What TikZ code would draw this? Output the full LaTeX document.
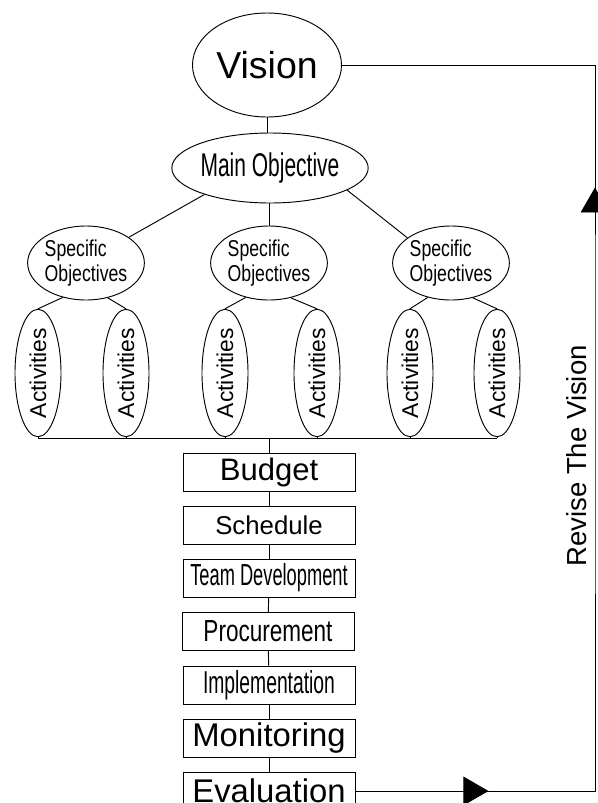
\documentclass[tikz,border=0pt]{standalone}
\usepackage{fontspec}
\setmainfont{Liberation Sans}
\usepackage{graphicx}
\usetikzlibrary{shapes.geometric,arrows.meta,decorations.markings}

\tikzset{
  oval/.style={draw, ellipse, inner sep=0pt},
  specoval/.style={oval, minimum width=3.39cm, minimum height=2.22cm, align=left,
    font=\fontsize{19.6pt}{21pt}\selectfont},
  actoval/.style={oval, minimum width=1.38cm, minimum height=3.39cm,
    font=\fontsize{19.5pt}{21pt}\selectfont},
  stagebox/.style={draw, rectangle, inner sep=0pt, minimum width=5.16cm, minimum height=1.14cm},
  feedback/.style={postaction={decorate}, decoration={markings,
    mark=at position 3.99cm with {\arrow{Triangle[length=7.5mm,width=8.6mm]}},
    mark=at position 25.29cm with {\arrow{Triangle[length=7.5mm,width=8.6mm]}}}}
}
\newcommand{\squeeze}[2]{\scalebox{#1}[1]{#2}}
\newcommand{\specobj}{\squeeze{.77}{Specific}\\\squeeze{.77}{Objectives}}

\begin{document}
\begin{tikzpicture}[x=.03cm, y=-.03cm, line width=.8pt]
\useasboundingbox (0,0) rectangle (598,803);

% top of the tree
\node[oval, minimum width=4.47cm, minimum height=3.12cm, font=\fontsize{32pt}{34pt}\selectfont] (vision) at (267,65) {Vision};
\node[oval, minimum width=5.31cm, minimum height=2.1cm, font=\fontsize{28pt}{30pt}\selectfont] (main) at (270,168) {\squeeze{.64}{Main Objective}};

\node[specoval] (spec1) at (86,263) {\specobj};
\node[specoval] (spec2) at (269,263) {\specobj};
\node[specoval] (spec3) at (451,263) {\specobj};

\draw (vision.south) -- (vision.south |- main.north);
\draw (main.202) -- (spec1.31);
\draw (main.south -| spec2.north) -- (spec2.north);
\draw (main.344) -- (spec3.150);

% activities
\node[actoval] (act1) at (38,373) {\rotatebox{90}{Activities}};
\node[actoval] (act2) at (126,373) {\rotatebox{90}{Activities}};
\node[actoval] (act3) at (225,373) {\rotatebox{90}{Activities}};
\node[actoval] (act4) at (317,373) {\rotatebox{90}{Activities}};
\node[actoval] (act5) at (410,373) {\rotatebox{90}{Activities}};
\node[actoval] (act6) at (497,373) {\rotatebox{90}{Activities}};

\draw (spec1.236) -- (act1.north);
\draw (spec1.302) -- (act2.north);
\draw (spec2.236) -- (act3.north);
\draw (spec2.302) -- (act4.north);
\draw (spec3.236) -- (act5.north);
\draw (spec3.302) -- (act6.north);

\coordinate (bus) at (269,438);
\draw (act1.south |- bus) -- (act6.south |- bus);
\draw (act1.south) -- (act1.south |- bus);
\draw (act2.south) -- (act2.south |- bus);
\draw (act3.south) -- (act3.south |- bus);
\draw (act4.south) -- (act4.south |- bus);
\draw (act5.south) -- (act5.south |- bus);
\draw (act6.south) -- (act6.south |- bus);

% project stages
\node[stagebox, font=\fontsize{26.5pt}{28pt}\selectfont] (budget) at (269,472) {Budget};
\node[stagebox, font=\fontsize{22pt}{24pt}\selectfont] (schedule) at (269,525) {Schedule};
\node[stagebox, font=\fontsize{26pt}{28pt}\selectfont] (team) at (269,578) {\squeeze{.6}{Team Development}};
\node[stagebox, font=\fontsize{26pt}{28pt}\selectfont] (procure) at (268,631.5) {\squeeze{.74}{Procurement}};
\node[stagebox, font=\fontsize{27pt}{29pt}\selectfont] (implement) at (269,685) {\squeeze{.61}{Implementation}};
\node[stagebox, font=\fontsize{28pt}{30pt}\selectfont] (monitor) at (269,738) {Monitoring};
\node[stagebox, font=\fontsize{28pt}{30pt}\selectfont] (eval) at (269,791) {Evaluation};

\draw (bus) -- (budget.north);
\draw (budget) -- (schedule);
\draw (schedule) -- (team);
\draw (team) -- (procure);
\draw (procure) -- (implement);
\draw (implement) -- (monitor);
\draw (monitor) -- (eval);

% loop back to the vision
\coordinate (rail) at (595,400);
\draw[feedback] (eval.east) -| (rail) |- (vision.east);
\node[rotate=90, font=\fontsize{23.5pt}{25pt}\selectfont] (revise) at (577,456) {Revise The Vision};
\end{tikzpicture}
\end{document}
